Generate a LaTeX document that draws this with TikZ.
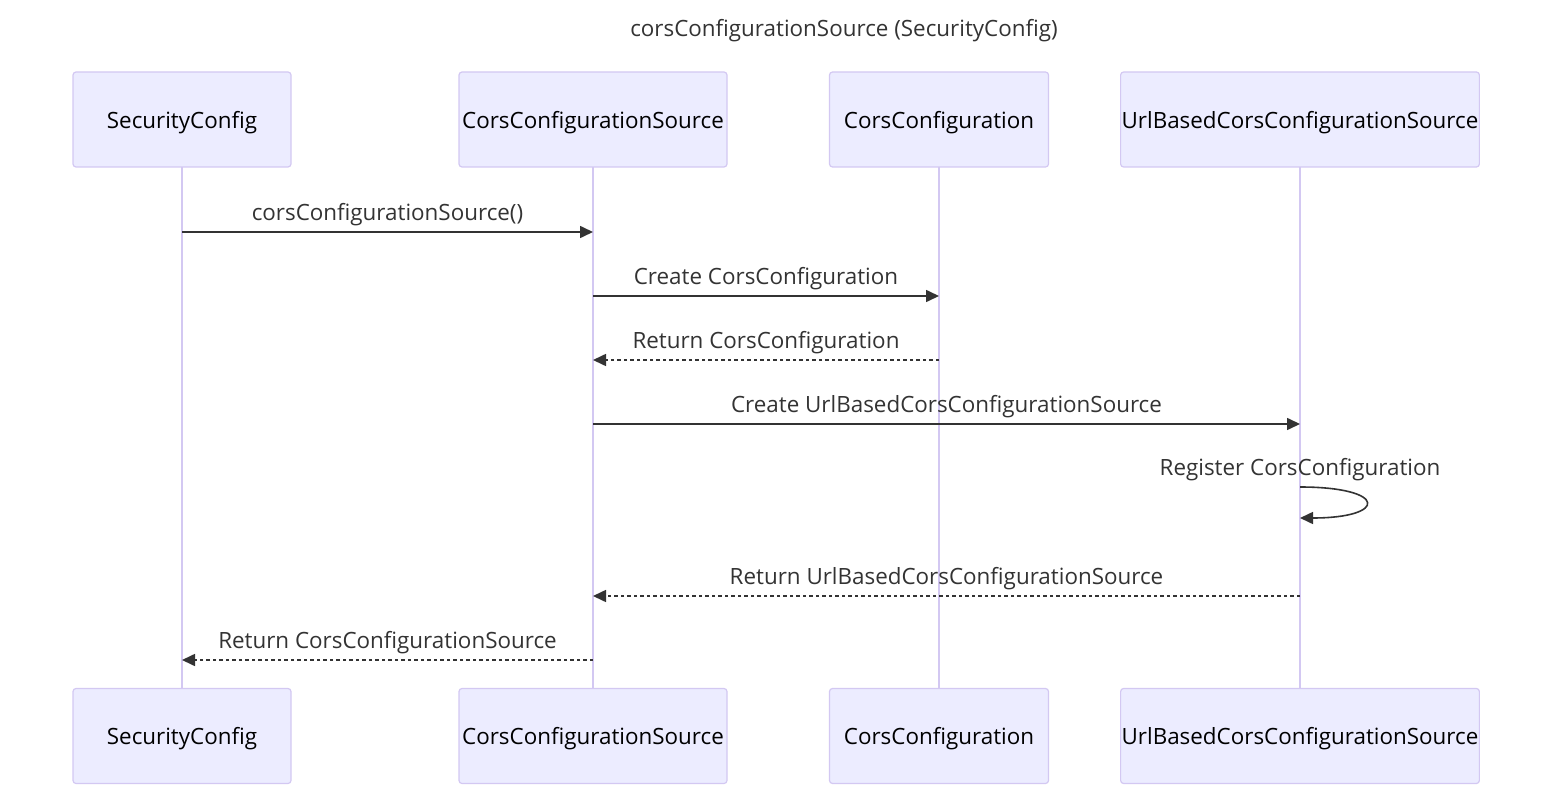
\documentclass[tikz,border=0pt]{standalone}
\usepackage{fontspec}
\setmainfont{Open Sans}
\usetikzlibrary{arrows.meta}
\definecolor{actorfill}{HTML}{ECECFF}
\definecolor{actorline}{HTML}{D3C8F2}
\definecolor{msgline}{HTML}{333333}
\tikzset{
  txt/.style={font=\fontsize{22.4}{26}\selectfont, text depth=0pt},
  actor/.style={txt, draw=actorline, fill=actorfill, rounded corners=3pt, line width=1.2pt, minimum height=95pt, inner xsep=1pt},
  life/.style={draw=actorline, line width=2.2pt},
  msg/.style={draw=msgline, line width=1.6pt, -{Triangle[length=13pt,width=12pt]}},
  reply/.style={msg, dash pattern=on 3.5pt off 3pt},
  lbl/.style={txt, text=msgline, yshift=20pt, inner sep=0pt}
}

\begin{document}
\begin{tikzpicture}[x=1pt,y=-1pt]
\useasboundingbox (0,0) rectangle (1568,810);
\node[txt, text=msgline] (title) at (844,28) {corsConfigurationSource (SecurityConfig)};
\foreach \n/\x/\w/\t in {sc/182/218/SecurityConfig, ccs/593/268/CorsConfigurationSource, cc/939/219/CorsConfiguration, url/1300/357/UrlBasedCorsConfigurationSource} {
  \draw[life] (\x,167) -- (\x,689);
  \node[actor, minimum width=\w pt] (\n) at (\x,119.5) {\t};
  \node[actor, minimum width=\w pt] (\n-b) at (\x,736) {\t};
}
\foreach \m/\y in {m1/232, m2/296, m3/360, m4/424, m5/487, m5b/518, m6/596, m7/660} {\coordinate (\m) at (0,\y);}
\draw[msg] (sc |- m1) -- node[lbl] {corsConfigurationSource()} (ccs |- m1);
\draw[msg] (ccs |- m2) -- node[lbl] {Create CorsConfiguration} (cc |- m2);
\draw[reply] (cc |- m3) -- node[lbl] {Return CorsConfiguration} (ccs |- m3);
\draw[msg] (ccs |- m4) -- node[lbl] {Create UrlBasedCorsConfigurationSource} (url |- m4);
\node[lbl] (reg) at (url |- m5) {Register CorsConfiguration};
\draw[msg] (url |- m5) .. controls +(88,0) and +(88,0) .. (url |- m5b);
\draw[reply] (url |- m6) -- node[lbl] {Return UrlBasedCorsConfigurationSource} (ccs |- m6);
\draw[reply] (ccs |- m7) -- node[lbl] {Return CorsConfigurationSource} (sc |- m7);
\end{tikzpicture}
\end{document}
